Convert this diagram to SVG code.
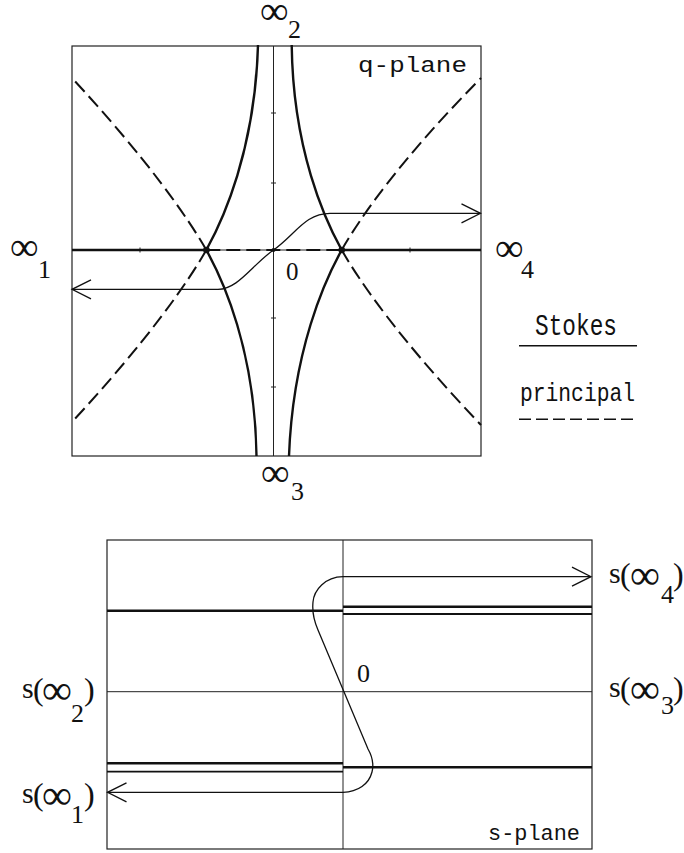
<svg xmlns="http://www.w3.org/2000/svg" width="684" height="853" viewBox="0 0 684 853">
<style>
.frame{fill:none;stroke:#222;stroke-width:1.2}
.thin{fill:none;stroke:#222;stroke-width:1}
.stokes{fill:none;stroke:#111;stroke-width:2.4}
.stokes2{fill:none;stroke:#111;stroke-width:1.8}
.principal{fill:none;stroke:#111;stroke-width:2;stroke-dasharray:14 6}
.traj{fill:none;stroke:#111;stroke-width:1.3}
.lbl{font-family:"Liberation Serif","DejaVu Serif",serif;fill:#111}
.mono{font-family:"Liberation Mono","DejaVu Sans Mono",monospace;fill:#111}
</style>
<defs>
<marker id="arrow" markerUnits="userSpaceOnUse" markerWidth="20" markerHeight="20" refX="0" refY="0" orient="auto-start-reverse" overflow="visible">
<path d="M-19,-9.5 L0,0 L-19,9.5" fill="none" stroke="#111" stroke-width="1.3"/>
</marker>
</defs>
<rect width="684" height="853" fill="#fff"/>

<g id="q-plane">
<rect class="frame" x="72" y="46" width="409" height="410"/>
<g id="q-axes">
<line class="thin" x1="273.5" y1="46" x2="273.5" y2="456"/>
<line class="thin" x1="72" y1="250" x2="481" y2="250"/>
<path class="thin" d="M271,113h5M271,183h5M271,318h5M271,387h5M140,247.5v5M410,247.5v5"/>
</g>
<g id="q-stokes">
<path class="stokes" d="M72,250H206.3M341.7,250H481"/>
<path class="stokes" d="M341.7,250 C325,220 293,150 291.7,45"/>
<path class="stokes" d="M341.7,250 C325,280 293,350 289,456"/>
<path class="stokes" d="M206.3,250 C223,220 255,150 258,45"/>
<path class="stokes" d="M206.3,250 C223,280 255,350 256.5,456"/>
</g>
<g id="q-principal">
<path class="principal" d="M206.3,250H341.7"/>
<path class="principal" d="M341.7,250 C360,218 400,160 481,78"/>
<path class="principal" d="M341.7,250 C360,282 400,340 481,425"/>
<path class="principal" d="M206.3,250 C188,218 148,160 72,78"/>
<path class="principal" d="M206.3,250 C188,282 148,340 72,422"/>
</g>
<g id="q-points">
<circle cx="206.5" cy="250" r="3.3" fill="#111"/>
<circle cx="341.7" cy="250" r="3.3" fill="#111"/>
<circle cx="273.5" cy="250" r="2" fill="#111"/>
</g>
<g id="q-path">
<path class="traj" marker-start="url(#arrow)" marker-end="url(#arrow)" d="M72,289.3 L218,289.3 C238,289.3 252,265 273.5,250 C295,235 305,213.3 330,213.3 L480.5,213.3"/>
</g>
<g id="q-labels">
<text class="mono" x="358" y="72" font-size="22" textLength="109" lengthAdjust="spacingAndGlyphs">q-plane</text>
<text class="lbl" x="286" y="280" font-size="25">0</text>
<text class="lbl" x="10" y="260" font-size="40">∞</text>
<text class="lbl" x="38" y="278" font-size="26">1</text>
<text class="lbl" x="260" y="24" font-size="40">∞</text>
<text class="lbl" x="288" y="38" font-size="26">2</text>
<text class="lbl" x="261" y="486" font-size="40">∞</text>
<text class="lbl" x="291" y="500" font-size="26">3</text>
<text class="lbl" x="495" y="261" font-size="40">∞</text>
<text class="lbl" x="521" y="278" font-size="26">4</text>
</g>
</g>

<g id="legend">
<g id="legend-stokes">
<text class="mono" x="535" y="335" font-size="30" textLength="82" lengthAdjust="spacingAndGlyphs">Stokes</text>
<line x1="519" y1="345.7" x2="637" y2="345.7" stroke="#111" stroke-width="1.6"/>
</g>
<g id="legend-principal">
<text class="mono" x="520" y="401" font-size="26" textLength="115" lengthAdjust="spacingAndGlyphs">principal</text>
<line x1="519" y1="419.3" x2="637" y2="419.3" stroke="#111" stroke-width="1.4" stroke-dasharray="12 5"/>
</g>
</g>

<g id="s-plane">
<rect class="frame" x="107" y="540" width="485" height="309"/>
<g id="s-axes">
<line class="thin" x1="343" y1="540" x2="343" y2="849"/>
<line class="thin" x1="107" y1="691.7" x2="592" y2="691.7"/>
</g>
<g id="s-lines">
<path class="stokes" d="M107,610.7H343"/>
<path class="stokes" d="M343,606.7H592"/>
<path class="stokes2" d="M343,614H592"/>
<path class="stokes" d="M107,763.3H343"/>
<path class="stokes2" d="M107,771.7H343"/>
<path class="stokes" d="M343,767.3H592"/>
</g>
<g id="s-path">
<path class="traj" marker-start="url(#arrow)" marker-end="url(#arrow)" d="M107.5,792.3 L343,792.3 C358,792 369,784 372,772 C374,764 372,756 368,749 L318,630 C314,621 312,612 313,602 C314,590 325,577 343,576.7 L591,576.7"/>
</g>
<g id="s-labels">
<text class="lbl" x="357" y="682" font-size="26">0</text>
<text class="mono" x="488" y="840" font-size="22" textLength="92" lengthAdjust="spacingAndGlyphs">s-plane</text>
<g id="label-s4">
<text class="lbl" x="609" y="583" font-size="30">s</text>
<text class="lbl" x="620" y="585" font-size="32">(</text>
<text class="lbl" x="630" y="589" font-size="42">∞</text>
<text class="lbl" x="661" y="603" font-size="26">4</text>
<text class="lbl" x="673" y="585" font-size="32">)</text>
</g>
<g id="label-s3">
<text class="lbl" x="609" y="697" font-size="30">s</text>
<text class="lbl" x="620" y="699" font-size="32">(</text>
<text class="lbl" x="630" y="703" font-size="42">∞</text>
<text class="lbl" x="661" y="714" font-size="26">3</text>
<text class="lbl" x="673" y="699" font-size="32">)</text>
</g>
<g id="label-s2">
<text class="lbl" x="22" y="698" font-size="30">s</text>
<text class="lbl" x="33" y="700" font-size="32">(</text>
<text class="lbl" x="42" y="704" font-size="42">∞</text>
<text class="lbl" x="71" y="722" font-size="26">2</text>
<text class="lbl" x="84" y="700" font-size="32">)</text>
</g>
<g id="label-s1">
<text class="lbl" x="22" y="803" font-size="30">s</text>
<text class="lbl" x="33" y="805" font-size="32">(</text>
<text class="lbl" x="42" y="809" font-size="42">∞</text>
<text class="lbl" x="71" y="823" font-size="26">1</text>
<text class="lbl" x="84" y="805" font-size="32">)</text>
</g>
</g>
</g>
</svg>
